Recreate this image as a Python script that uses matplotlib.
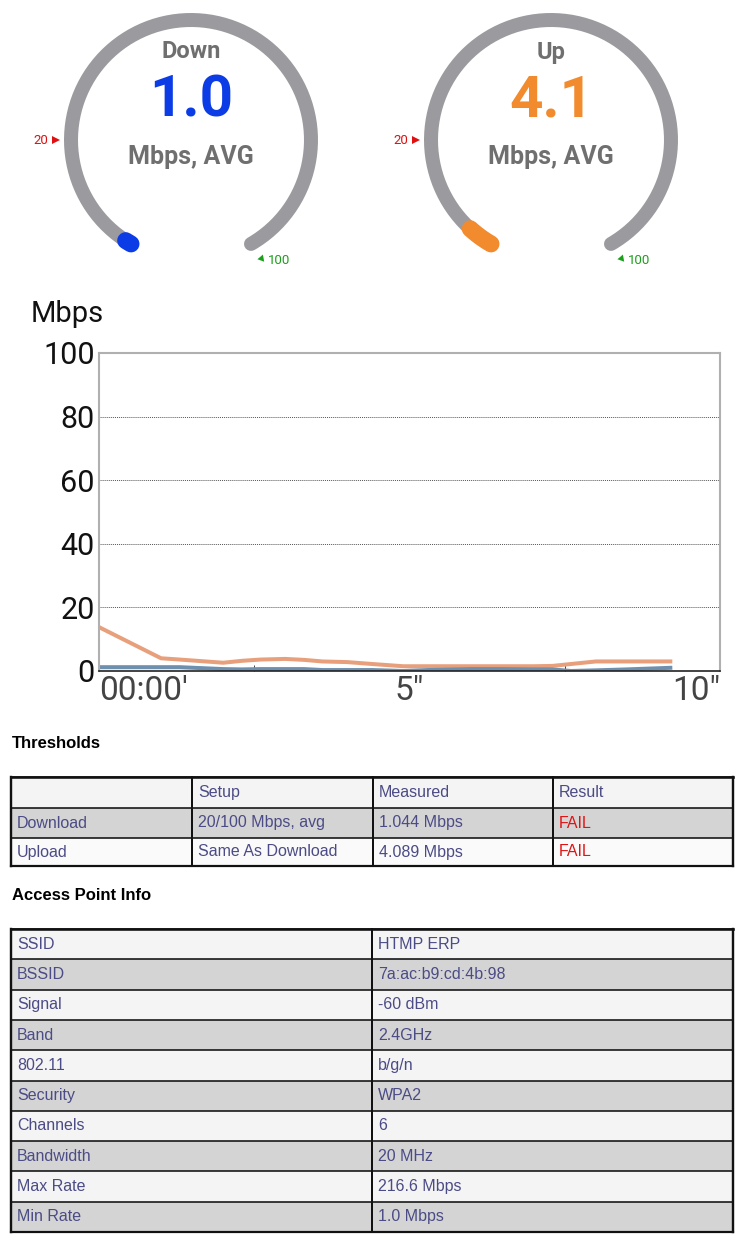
import numpy as np
import matplotlib
matplotlib.use("Agg")
import matplotlib.pyplot as plt
from matplotlib.patches import Rectangle

# ---------------- data ----------------
gauge_titles = ["Down", "Up"]
gauge_values = [1.0, 4.1]
gauge_colors = ["#0b3ce6", "#f28a2e"]
gauge_min_threshold = 20
gauge_max = 100

time_s = [0.0, 1.0, 1.3, 2.0, 2.3, 2.6, 3.0, 3.3, 3.6, 4.0, 4.4, 4.9, 5.3, 6.0, 6.5, 7.0, 7.3, 7.6, 8.0, 8.5, 9.2]
upload_mbps = [13.8, 4.0, 3.6, 2.6, 3.2, 3.6, 3.8, 3.5, 3.0, 2.8, 2.2, 1.5, 1.5, 1.5, 1.5, 1.5, 1.6, 2.2, 3.0, 3.0, 3.0]
download_mbps = [1.2, 1.2, 1.2, 0.6, 0.5, 0.6, 0.6, 0.6, 0.3, 0.3, 0.3, 0.0, 0.3, 0.6, 0.6, 0.5, 0.5, 0.0, 0.2, 0.5, 1.0]
x_ticks = [0, 5, 10]
x_ticklabels = ["00:00'", "5\"", "10\""]
y_ticks = [0, 20, 40, 60, 80, 100]

thr_header = ["", "Setup", "Measured", "Result"]
thr_rows = [["Download", "20/100 Mbps, avg", "1.044 Mbps", "FAIL"],
            ["Upload", "Same As Download", "4.089 Mbps", "FAIL"]]

ap_labels = ["SSID", "BSSID", "Signal", "Band", "802.11", "Security", "Channels",
             "Bandwidth", "Max Rate", "Min Rate"]
ap_values = ["HTMP ERP", "7a:ac:b9:cd:4b:98", "-60 dBm", "2.4GHz", "b/g/n", "WPA2", "6",
             "20 MHz", "216.6 Mbps", "1.0 Mbps"]

# ---------------- figure ----------------
W, H = 749, 1242
fig = plt.figure(figsize=(W / 100, H / 100), dpi=100)
bg = fig.add_axes([0, 0, 1, 1])
bg.set_xlim(0, W)
bg.set_ylim(H, 0)
bg.axis("off")

PT = 72 / 100  # px -> pt

GRAY = "#9b9b9f"
TXT_GRAY = "#6f6f6f"

def ang_for(v):
    # 0 -> 240 deg, 100 -> -60 deg (clockwise sweep of 300 deg)
    return np.deg2rad(240 - 300 * v / gauge_max)

def arc_pts(cx, cy, r, v0, v1):
    a = np.linspace(ang_for(v0), ang_for(v1), 200)
    return cx + r * np.cos(a), cy - r * np.sin(a)

gauge_cx = [191, 551]
gauge_cy = 140
R = 120
for i in range(2):
    cx = gauge_cx[i]
    xs, ys = arc_pts(cx, gauge_cy, R, 0, gauge_max)
    bg.plot(xs, ys, color=GRAY, lw=14 * PT, solid_capstyle="round", zorder=2)
    xs, ys = arc_pts(cx, gauge_cy, R, 0, gauge_values[i])
    bg.plot(xs, ys, color=gauge_colors[i], lw=17 * PT, solid_capstyle="round", zorder=3)
    # threshold markers
    a = ang_for(gauge_min_threshold)
    mx, my = cx + (R + 10) * np.cos(a), gauge_cy - (R + 10) * np.sin(a)
    bg.plot(mx - 5, my, marker=">", color="#e01010", ms=6, mew=0, zorder=4)
    bg.text(mx - 13, my, str(gauge_min_threshold), color="#e01010", fontsize=9.5,
            ha="right", va="center", family="Roboto")
    a = ang_for(gauge_max)
    mx, my = cx + (R + 12) * np.cos(a), gauge_cy - (R + 12) * np.sin(a)
    bg.plot(mx + 4, my + 4, marker=(3, 0, -20), color="#1aa01a", ms=6, mew=0, zorder=4)
    bg.text(mx + 11, my + 6, str(gauge_max), color="#1aa01a", fontsize=9.5,
            ha="left", va="center", family="Roboto")
    bg.text(cx, 52, gauge_titles[i], color=TXT_GRAY, fontsize=17, fontweight="bold",
            ha="center", va="center", family="Roboto")
    bg.text(cx, 101, f"{gauge_values[i]:.1f}", color=gauge_colors[i], fontsize=42,
            fontweight="bold", ha="center", va="center", family="Roboto")
    bg.text(cx, 157, "Mbps, AVG", color=TXT_GRAY, fontsize=18, fontweight="bold",
            ha="center", va="center", family="Roboto")

# ---------------- line chart ----------------
L, R_, T, B = 99, 720, 353, 671
ax = fig.add_axes([L / W, 1 - B / H, (R_ - L) / W, (B - T) / H])
ax.set_xlim(0, 10)
ax.set_ylim(0, 100)
ax.plot(time_s, upload_mbps, color="#e8a07c", lw=4 * PT)
ax.plot(time_s, download_mbps, color="#6e8fae", lw=4 * PT)
for s in ["left", "top", "right"]:
    ax.spines[s].set_color("#b0b0b0")
    ax.spines[s].set_linewidth(1.5)
ax.spines["bottom"].set_color("#222222")
ax.spines["bottom"].set_linewidth(1.2)
ax.yaxis.grid(True, linestyle=(0, (1, 1)), color="#555555", lw=0.7)
ax.set_yticks(y_ticks)
ax.set_xticks(x_ticks)
ax.set_xticklabels(x_ticklabels)
ax.set_xticks([2.5, 5, 7.5], minor=True)
ax.tick_params(axis="y", length=0, labelsize=22, pad=3, labelcolor="#111111")
ax.tick_params(axis="x", which="major", length=0, labelsize=24, pad=3, labelcolor="#444444")
ax.tick_params(axis="x", which="minor", direction="in", length=4, color="#222222")
for lab in ax.get_yticklabels() + ax.get_xticklabels():
    lab.set_family("Roboto")
xl = ax.get_xticklabels()
xl[0].set_ha("left")
xl[-1].set_ha("right")
bg.text(31, 314, "Mbps", fontsize=21, ha="left", va="center", color="#111111", family="Roboto")

# ---------------- tables ----------------
CELL_TXT = "#4b4b86"
LIGHT = "#f4f4f4"
DARK = "#d4d4d4"
FONT = "Liberation Sans"

def draw_table(x_edges, y_edges, cells, fills, colors):
    for r in range(len(y_edges) - 1):
        y0, y1 = y_edges[r], y_edges[r + 1]
        bg.add_patch(Rectangle((x_edges[0], y0), x_edges[-1] - x_edges[0], y1 - y0,
                               facecolor=fills[r], edgecolor="none", zorder=1))
        for c in range(len(x_edges) - 1):
            bg.text(x_edges[c] + 6, (y0 + y1) / 2, cells[r][c], color=colors[r][c],
                    fontsize=11.5, ha="left", va="center", family=FONT, zorder=3)
    for y in y_edges:
        bg.plot([x_edges[0], x_edges[-1]], [y, y], color="#111111", lw=1.6 * PT, zorder=2)
    for i, x in enumerate(x_edges):
        lw = 2.4 if i in (0, len(x_edges) - 1) else 2.0
        bg.plot([x, x], [y_edges[0], y_edges[-1]], color="#111111", lw=lw * PT, zorder=2)
    bg.plot([x_edges[0], x_edges[-1]], [y_edges[0]] * 2, color="#111111", lw=2.6 * PT, zorder=2)
    bg.plot([x_edges[0], x_edges[-1]], [y_edges[-1]] * 2, color="#111111", lw=2.2 * PT, zorder=2)

bg.text(12, 744, "Thresholds", fontsize=12, fontweight="bold", ha="left", va="center",
        family=FONT, color="#000000")
x1 = [11, 192, 373, 553, 733]
y1 = [777, 808, 838, 866]
cells1 = [thr_header] + thr_rows
colors1 = [[CELL_TXT] * 4] + [[CELL_TXT] * 3 + ["#e01414"] for _ in thr_rows]
draw_table(x1, y1, cells1, [LIGHT, DARK, "#fafafa"], colors1)

bg.text(12, 896, "Access Point Info", fontsize=12, fontweight="bold", ha="left", va="center",
        family=FONT, color="#000000")
x2 = [11, 372, 733]
n = len(ap_labels)
y2 = list(np.linspace(929, 1232, n + 1))
cells2 = [[ap_labels[i], ap_values[i]] for i in range(n)]
fills2 = [LIGHT if i % 2 == 0 else DARK for i in range(n)]
colors2 = [[CELL_TXT, CELL_TXT] for _ in range(n)]
draw_table(x2, y2, cells2, fills2, colors2)

fig.savefig("out.png", dpi=100)
